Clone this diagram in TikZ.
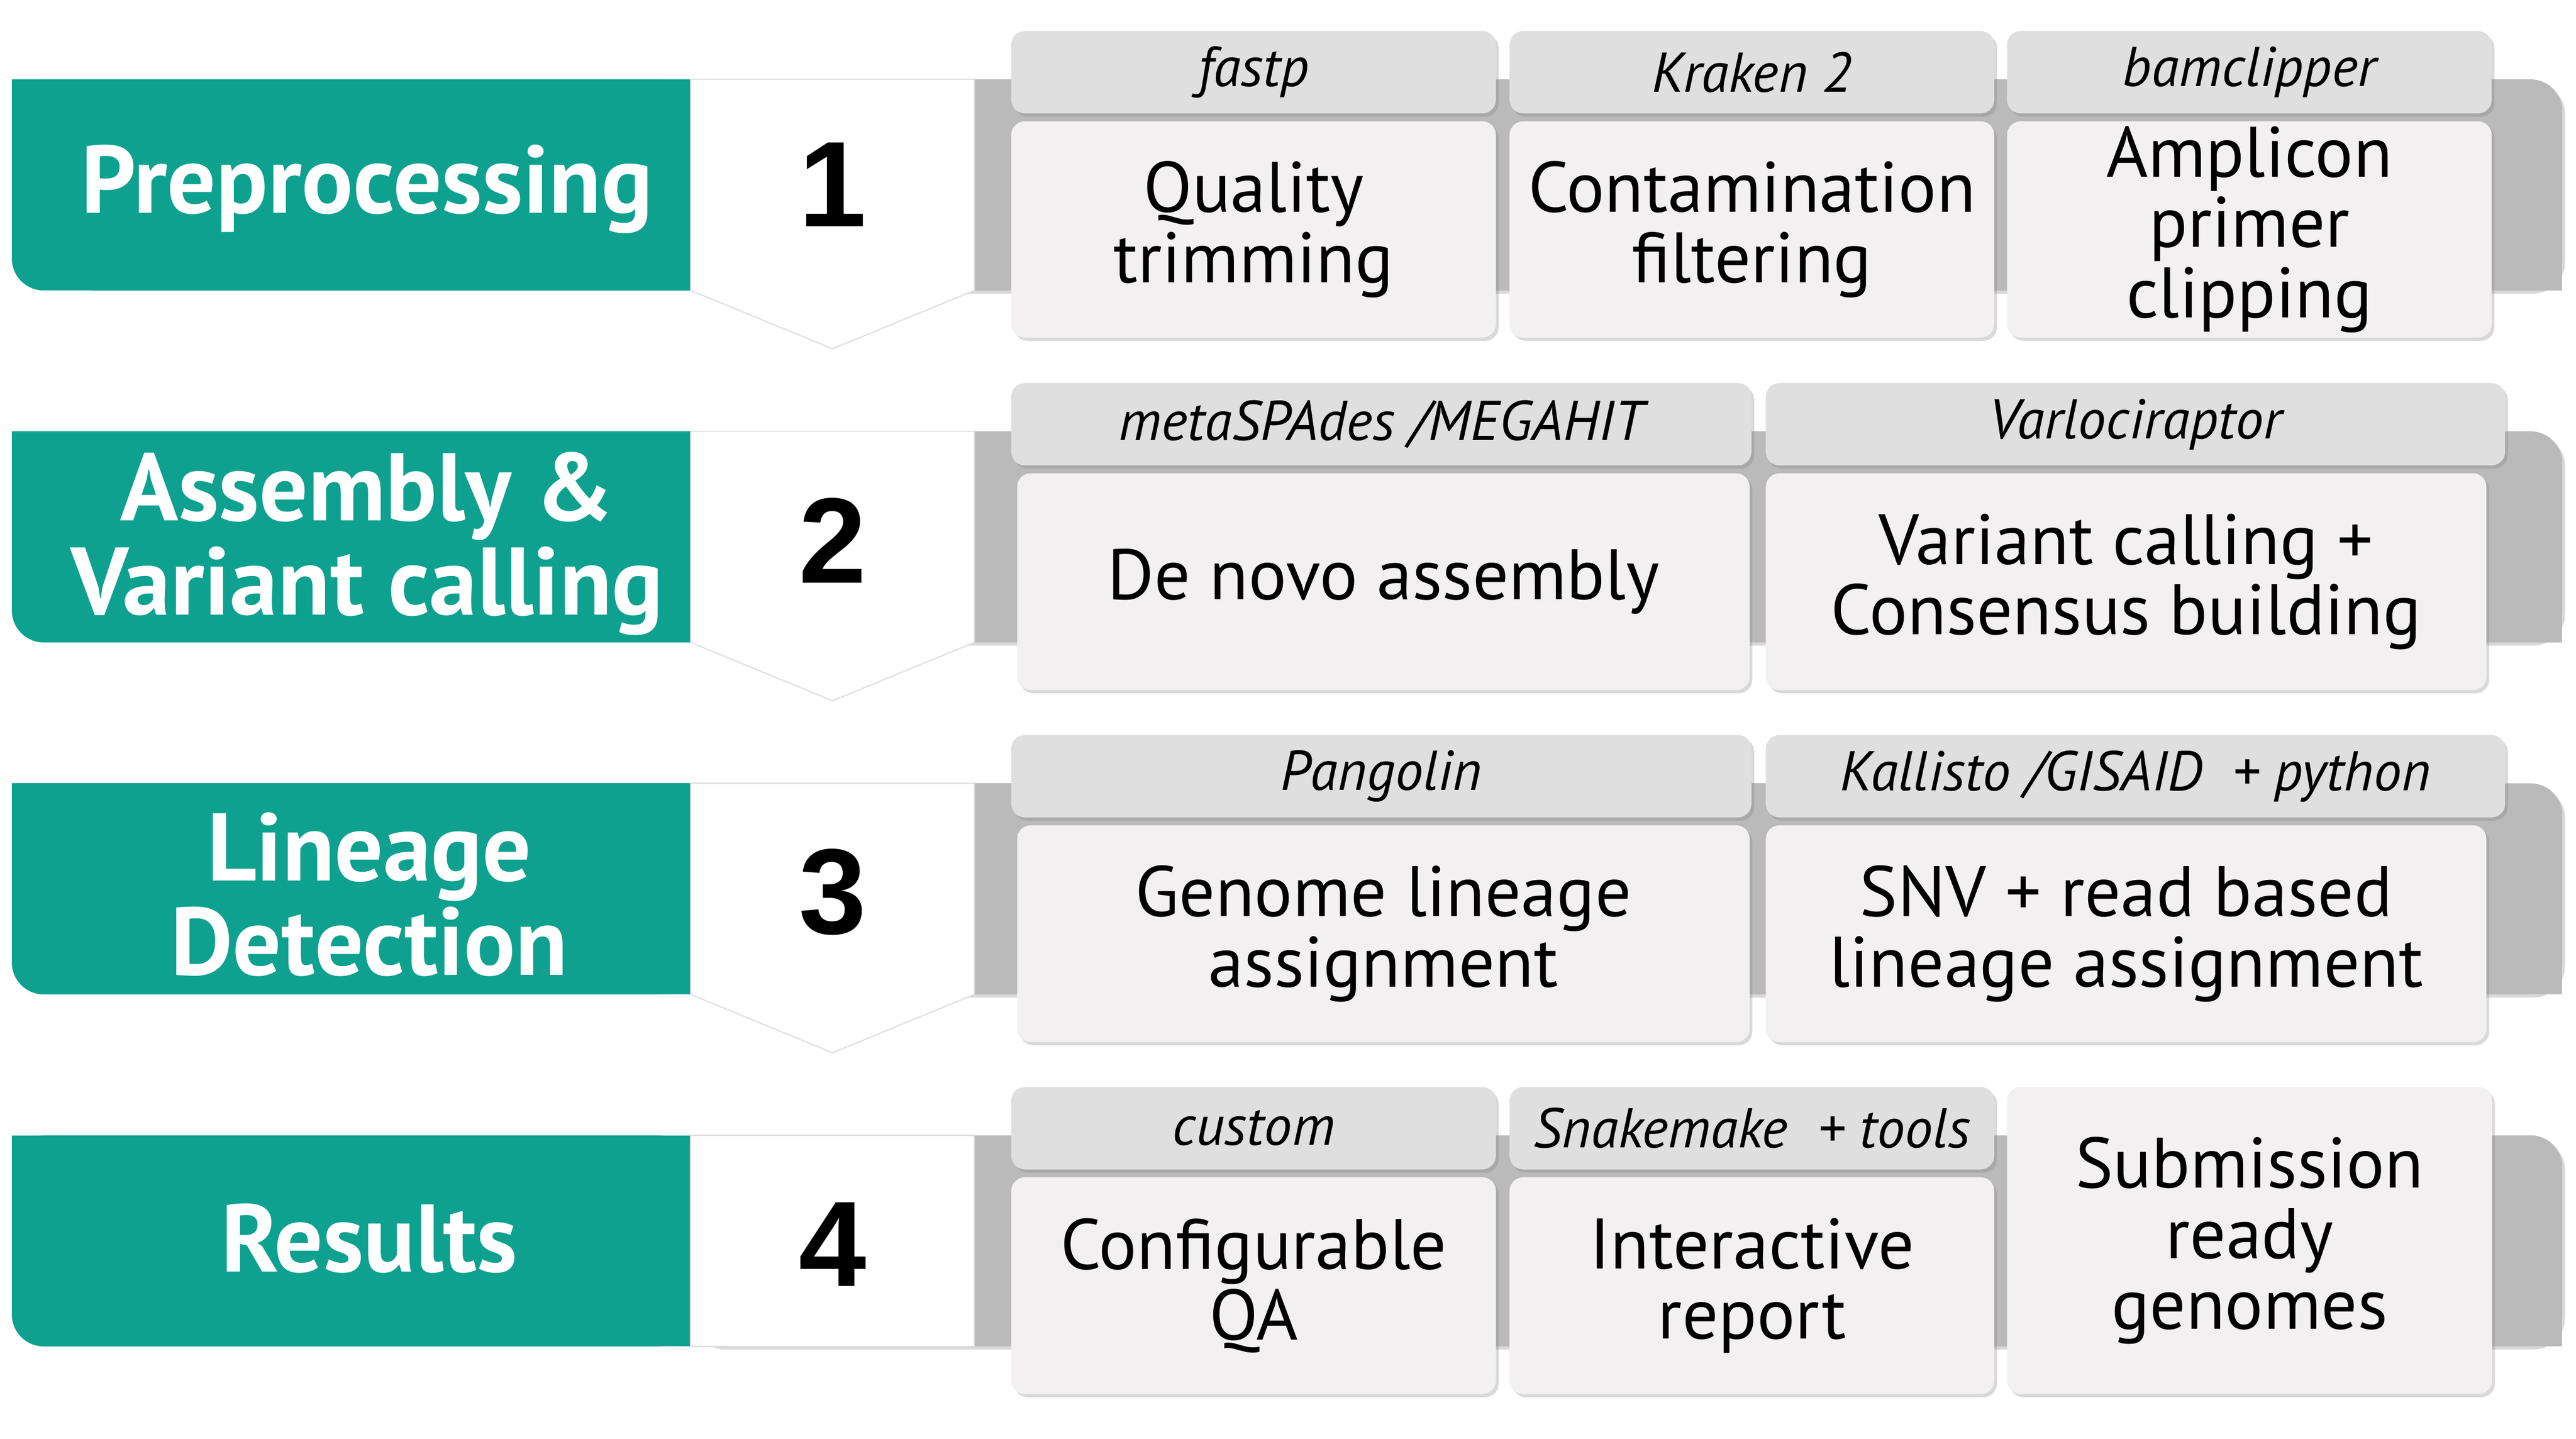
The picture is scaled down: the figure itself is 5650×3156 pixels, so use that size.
\documentclass[tikz,border=0pt]{standalone}
\usepackage{fontspec}
\setmainfont{PT Sans}
\newfontfamily\numfont{Liberation Sans}
\usetikzlibrary{shadows}
\definecolor{stagegreen}{RGB}{14,161,143}
\definecolor{bandgray}{RGB}{187,186,187}
\definecolor{toolgray}{RGB}{224,223,224}
\definecolor{taskgray}{RGB}{242,240,241}
\begin{document}
\begin{tikzpicture}[x=0.005cm, y=-0.005cm,
  boxshadow/.style={drop shadow={opacity=0.3, shadow xshift=0.03cm, shadow yshift=-0.035cm}},
  toolbox/.style={rectangle, rounded corners=0.15cm, fill=toolgray, boxshadow, anchor=north west, inner sep=0pt, outer sep=0pt, minimum height=0.905cm, font=\itshape\fontsize{17.5}{18}\selectfont},
  taskbox/.style={rectangle, rounded corners=0.15cm, fill=taskgray, boxshadow, anchor=north west, inner sep=0pt, outer sep=0pt, align=center, font=\fontsize{22.3}{22}\selectfont},
  stagelabel/.style={text=white, align=center, font=\bfseries\fontsize{30}{29.5}\selectfont},
  stepnum/.style={font=\numfont\bfseries\fontsize{38}{40}\selectfont},
  numbox/.style={fill=white, draw=black!12, line width=0.4pt}]
\useasboundingbox (0,0) rectangle (5650,3156);
\fill[bandgray, rounded corners=0.35cm, boxshadow] (1515,174) rectangle (5620,637);
\fill[bandgray] (1515,174) rectangle (5300,637);
\fill[bandgray] (1515,400) rectangle (5620,637);
\fill[stagegreen, rounded corners=0.35cm] (26,174) rectangle (1515,637);
\fill[stagegreen] (26,174) rectangle (1515,400);
\fill[stagegreen] (200,174) rectangle (1515,637);
\filldraw[numbox] (1515,174) -- (2137,174) -- (2137,637) -- (1826,765) -- (1515,637) -- cycle;
\node[stagelabel] (prep) at (805,415) {Preprocessing};
\node[stepnum] (num1) at (1826,405) {1};
\node[toolbox, minimum width=5.32cm] (fastp) at (2218,68) {fastp};
\node[toolbox, minimum width=5.32cm] (kraken) at (3311,68) {Kraken 2};
\node[toolbox, minimum width=5.32cm] (bamclip) at (4402,68) {bamclipper};
\node[taskbox, minimum width=5.32cm, minimum height=2.375cm] (trim) at (2218,266) {Quality\\trimming};
\node[taskbox, minimum width=5.32cm, minimum height=2.375cm] (contam) at (3311,266) {Contamination\\filtering};
\node[taskbox, minimum width=5.32cm, minimum height=2.375cm] (clip) at (4402,266) {Amplicon\\primer\\clipping};

\fill[bandgray, rounded corners=0.35cm, boxshadow] (1515,946) rectangle (5620,1409);
\fill[bandgray] (1515,946) rectangle (5300,1409);
\fill[bandgray] (1515,1172) rectangle (5620,1409);
\fill[stagegreen, rounded corners=0.35cm] (26,946) rectangle (1515,1409);
\fill[stagegreen] (26,946) rectangle (1515,1172);
\fill[stagegreen] (200,946) rectangle (1515,1409);
\filldraw[numbox] (1515,946) -- (2137,946) -- (2137,1409) -- (1826,1537) -- (1515,1409) -- cycle;
\node[stagelabel] (assembly) at (805,1192) {Assembly \&\\Variant calling};
\node[stepnum] (num2) at (1826,1185) {2};
\node[toolbox, minimum width=8.125cm] (megahit) at (2218,840) {metaSPAdes /MEGAHIT};
\node[toolbox, minimum width=8.115cm] (varlo) at (3873,840) {Varlociraptor};
\node[taskbox, minimum width=8.04cm, minimum height=2.38cm] (denovo) at (2231,1038) {De novo assembly};
\node[taskbox, minimum width=7.91cm, minimum height=2.38cm] (varcall) at (3873,1038) {Variant calling +\\Consensus building};

\fill[bandgray, rounded corners=0.35cm, boxshadow] (1515,1718) rectangle (5620,2181);
\fill[bandgray] (1515,1718) rectangle (5300,2181);
\fill[bandgray] (1515,1944) rectangle (5620,2181);
\fill[stagegreen, rounded corners=0.35cm] (26,1718) rectangle (1515,2181);
\fill[stagegreen] (26,1718) rectangle (1515,1944);
\fill[stagegreen] (200,1718) rectangle (1515,2181);
\filldraw[numbox] (1515,1718) -- (2137,1718) -- (2137,2181) -- (1826,2309) -- (1515,2181) -- cycle;
\node[stagelabel] (lineage) at (810,1962) {Lineage\\Detection};
\node[stepnum] (num3) at (1826,1957) {3};
\node[toolbox, minimum width=8.125cm] (pango) at (2218,1612) {Pangolin};
\node[toolbox, minimum width=8.115cm] (kallisto) at (3873,1612) {Kallisto /GISAID \ + python};
\node[taskbox, minimum width=8.04cm, minimum height=2.38cm] (genlin) at (2231,1810) {Genome lineage\\assignment};
\node[taskbox, minimum width=7.91cm, minimum height=2.38cm] (readlin) at (3873,1810) {SNV + read based\\lineage assignment};

\fill[bandgray, rounded corners=0.35cm, boxshadow] (1515,2490) rectangle (5620,2953);
\fill[bandgray] (1515,2490) rectangle (5300,2953);
\fill[bandgray] (1515,2716) rectangle (5620,2953);
\fill[stagegreen, rounded corners=0.35cm] (26,2490) rectangle (1515,2953);
\fill[stagegreen] (26,2490) rectangle (1515,2716);
\fill[stagegreen] (200,2490) rectangle (1515,2953);
\filldraw[numbox] (1515,2490) rectangle (2137,2953);
\node[stagelabel] (results) at (810,2716) {Results};
\node[stepnum] (num4) at (1826,2729) {4};
\node[toolbox, minimum width=5.32cm] (custom) at (2218,2384) {custom};
\node[toolbox, minimum width=5.32cm] (snake) at (3311,2384) {Snakemake \ + tools};
\node[taskbox, minimum width=5.32cm, minimum height=2.38cm] (qa) at (2218,2582) {Configurable\\QA};
\node[taskbox, minimum width=5.32cm, minimum height=2.38cm] (report) at (3311,2582) {Interactive\\report};
\node[taskbox, minimum width=5.325cm, minimum height=3.37cm] (genomes) at (4402,2384) {Submission\\ready\\genomes};
\end{tikzpicture}
\end{document}
